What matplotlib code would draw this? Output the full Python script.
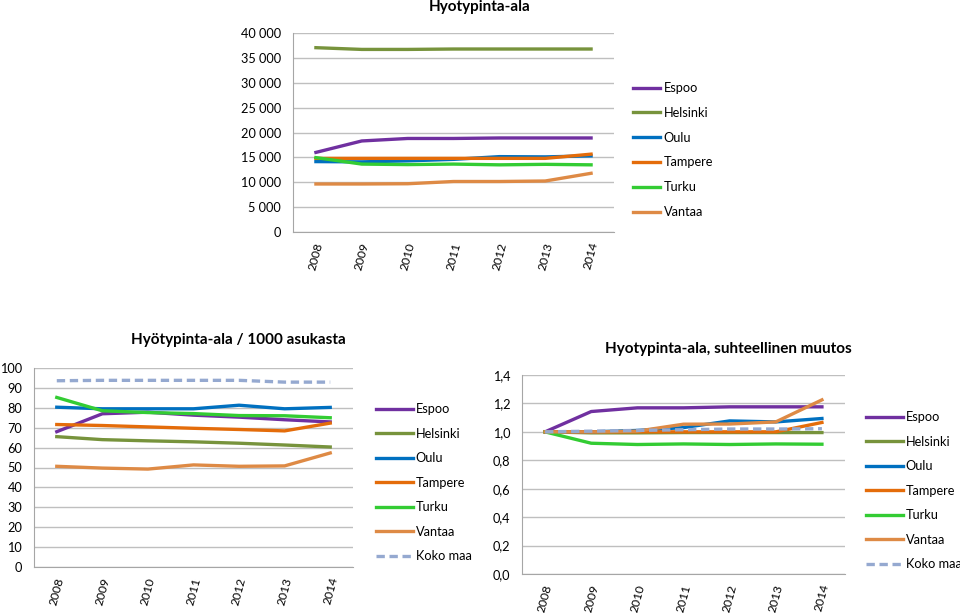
import matplotlib

matplotlib.use("Agg")
import matplotlib.pyplot as plt  # noqa: E402

plt.rcParams["font.family"] = ["Lato", "DejaVu Sans"]

years = ["2008", "2009", "2010", "2011", "2012", "2013", "2014"]
cities = ["Espoo", "Helsinki", "Oulu", "Tampere", "Turku", "Vantaa"]

# Hyötypinta-ala (absoluuttinen)
area_espoo = [16000, 18300, 18800, 18800, 18900, 18900, 18900]
area_helsinki = [37050, 36700, 36700, 36780, 36780, 36780, 36780]
area_oulu = [14150, 14100, 14300, 14600, 15150, 15100, 15300]
area_tampere = [14800, 14800, 14800, 14800, 14800, 14800, 15650]
area_turku = [14950, 13650, 13550, 13650, 13500, 13600, 13500]
area_vantaa = [9650, 9650, 9700, 10150, 10150, 10250, 11800]

# Hyötypinta-ala / 1000 asukasta
per_espoo = [68.0, 77.0, 77.8, 76.3, 75.3, 74.0, 72.9]
per_helsinki = [65.5, 64.0, 63.4, 62.9, 62.2, 61.3, 60.3]
per_oulu = [80.3, 79.5, 79.5, 79.5, 81.3, 79.5, 80.2]
per_tampere = [71.6, 71.1, 70.4, 69.7, 69.1, 68.4, 72.3]
per_turku = [85.2, 78.5, 77.6, 77.1, 76.1, 76.0, 75.0]
per_vantaa = [50.6, 49.7, 49.2, 51.3, 50.6, 50.8, 57.3]
per_koko = [93.6, 93.8, 93.8, 93.8, 93.8, 92.9, 92.9]

# Suhteellinen muutos
rel_espoo = [1.0, 1.143, 1.169, 1.169, 1.176, 1.176, 1.176]
rel_helsinki = [1.0, 0.993, 0.993, 0.995, 0.995, 0.995, 0.995]
rel_oulu = [1.0, 1.0, 1.01, 1.03, 1.077, 1.07, 1.094]
rel_tampere = [1.0, 1.0, 1.0, 1.0, 1.0, 1.0, 1.066]
rel_turku = [1.0, 0.92, 0.911, 0.915, 0.911, 0.915, 0.913]
rel_vantaa = [1.0, 1.0, 1.005, 1.054, 1.055, 1.07, 1.225]
rel_koko = [1.0, 1.005, 1.01, 1.015, 1.02, 1.02, 1.022]

colors = {
    "Espoo": "#7030A0",
    "Helsinki": "#77933C",
    "Oulu": "#0070C0",
    "Tampere": "#E46C0A",
    "Turku": "#33CC33",
    "Vantaa": "#DE8A45",
    "Koko maa": "#95A9D0",
}

LW = 2.4
DASH = (0, (2.5, 1.4))
W, H = 960, 613
fig = plt.figure(figsize=(W / 100, H / 100), dpi=100)


def px_axes(left, top, right, bottom):
    return fig.add_axes([left / W, 1 - bottom / H, (right - left) / W, (bottom - top) / H])


def style(ax, ymax, step, fmt):
    ax.set_xlim(-0.5, 6.5)
    ax.set_ylim(0, ymax)
    ticks = [i * step for i in range(int(round(ymax / step)) + 1)]
    ax.set_yticks(ticks)
    ax.set_yticklabels([fmt(t) for t in ticks], fontsize=9.2)
    ax.set_xticks(range(len(years)))
    ax.set_xticklabels(years, rotation=75, ha="center", va="top", fontsize=8.7)
    ax.tick_params(axis="x", length=0, pad=6.5)
    ax.tick_params(axis="y", length=0, pad=8.5)
    ax.grid(axis="y", color="#BFBFBF", lw=1)
    ax.set_axisbelow(True)
    for s in ["top", "right"]:
        ax.spines[s].set_visible(False)
    for s in ["left", "bottom"]:
        ax.spines[s].set_color("#A6A6A6")


def thousands(v):
    return f"{int(v):,}".replace(",", " ")


def comma1(v):
    return f"{v:.1f}".replace(".", ",")


def legend(ax, handles, labels, x, y, hl, pad, spacing):
    ax.legend(handles, labels, loc="upper left", bbox_to_anchor=(x / W, 1 - y / H),
              bbox_transform=fig.transFigure, frameon=False, fontsize=9.2,
              handlelength=hl, labelspacing=spacing, handletextpad=pad, borderaxespad=0)


# --- top chart ---
ax1 = px_axes(293, 33, 614, 232)
for name, vals in zip(cities, [area_espoo, area_helsinki, area_oulu, area_tampere, area_turku, area_vantaa]):
    ax1.plot(range(7), vals, color=colors[name], lw=LW, label=name)
style(ax1, 40000, 5000, thousands)
h, l = ax1.get_legend_handles_labels()
legend(ax1, h, l, 628, 77, 2.1, 0.3, 1.0)
fig.text(480 / W, 1 - 7 / H, "Hyotypinta-ala", ha="center", va="center", fontsize=11, fontweight="bold")

# --- bottom left ---
ax2 = px_axes(34, 368, 353, 567)
for name, vals in zip(cities, [per_espoo, per_helsinki, per_oulu, per_tampere, per_turku, per_vantaa]):
    ax2.plot(range(7), vals, color=colors[name], lw=LW, label=name)
ax2.plot(range(7), per_koko, color=colors["Koko maa"], lw=LW, ls=DASH, label="Koko maa")
style(ax2, 100, 10, lambda v: str(int(v)))
h, l = ax2.get_legend_handles_labels()
legend(ax2, h, l, 371, 398, 2.9, 0.2, 0.98)
fig.text(238 / W, 1 - 340 / H, "Hyötypinta-ala / 1000 asukasta", ha="center", va="center",
         fontsize=11, fontweight="bold")

# --- bottom right ---
ax3 = px_axes(522, 375, 845, 574)
ax3.plot(range(7), rel_helsinki, color=colors["Helsinki"], lw=LW, label="Helsinki", zorder=1.5)
for name, vals in zip(cities, [rel_espoo, rel_helsinki, rel_oulu, rel_tampere, rel_turku, rel_vantaa]):
    if name != "Helsinki":
        ax3.plot(range(7), vals, color=colors[name], lw=LW, label=name)
ax3.plot(range(7), rel_koko, color=colors["Koko maa"], lw=LW, ls=DASH, label="Koko maa")
style(ax3, 1.4, 0.2, comma1)
h, l = ax3.get_legend_handles_labels()
order = ["Espoo", "Helsinki", "Oulu", "Tampere", "Turku", "Vantaa", "Koko maa"]
hm = dict(zip(l, h))
legend(ax3, [hm[k] for k in order], order, 861, 406, 2.9, 0.2, 0.98)
fig.text(728 / W, 1 - 349 / H, "Hyotypinta-ala, suhteellinen muutos", ha="center", va="center",
         fontsize=11, fontweight="bold")

fig.savefig("out.png", dpi=100, facecolor="white")
